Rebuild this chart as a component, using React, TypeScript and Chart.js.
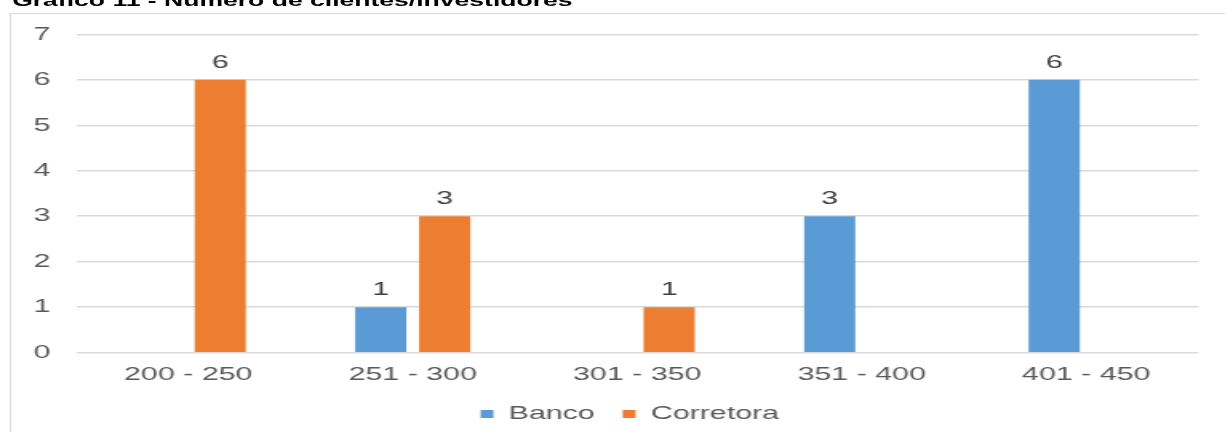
import React, { useEffect, useRef } from 'react';
import { Chart, registerables } from 'chart.js';

Chart.register(...registerables);

// Chart data
const titleText = 'Gráfico 11 - Número de clientes/investidores';
const categories = ['200 - 250', '251 - 300', '301 - 350', '351 - 400', '401 - 450'];
const seriesNames = ['Banco', 'Corretora'];
const bancoValues: (number | null)[] = [null, 1, null, 3, 6];
const corretoraValues: (number | null)[] = [6, 3, 1, null, null];
const seriesColors = ['#5B9BD5', '#ED7D31'];
const yMin = 0;
const yMax = 7;
const yStep = 1;

// The drawing is laid out on a narrower canvas and widened horizontally.
const PAGE_W = 1225;
const PAGE_H = 432;
const INNER_W = 766;
const STRETCH = PAGE_W / INNER_W;

const FONT = "'Liberation Sans', Arial, sans-serif";
const AXIS_COLOR = '#595959';
const LABEL_COLOR = '#404040';
const GRID_COLOR = '#d9d9d9';

// Plot area edges on the narrow canvas
const PLOT_LEFT = 47.5;
const PLOT_RIGHT = 749.4;
// Legend sits slightly left of the plot-area centre
const LEGEND_SHIFT = -4.6;

const valueLabels = {
  id: 'valueLabels',
  afterDatasetsDraw(chart: any) {
    const { ctx } = chart;
    ctx.save();
    ctx.font = `19px ${FONT}`;
    ctx.fillStyle = LABEL_COLOR;
    ctx.textAlign = 'center';
    ctx.textBaseline = 'middle';
    chart.data.datasets.forEach((ds: any, i: number) => {
      const meta = chart.getDatasetMeta(i);
      meta.data.forEach((bar: any, j: number) => {
        const v = ds.data[j];
        if (v === null || v === undefined) return;
        ctx.fillText(String(v), bar.x, bar.y - 17);
      });
    });
    ctx.restore();
  },
};

const legendOffset = {
  id: 'legendOffset',
  afterLayout(chart: any) {
    const lg = chart.legend;
    if (lg) {
      lg.left += LEGEND_SHIFT;
      lg.right += LEGEND_SHIFT;
    }
  },
};

export default function App() {
  const canvasRef = useRef<HTMLCanvasElement | null>(null);

  useEffect(() => {
    if (!canvasRef.current) return;
    const chart = new Chart(canvasRef.current, {
      type: 'bar',
      data: {
        labels: categories,
        datasets: [
          {
            label: seriesNames[0],
            data: bancoValues,
            backgroundColor: seriesColors[0],
            categoryPercentage: 0.57,
            barPercentage: 0.8,
          },
          {
            label: seriesNames[1],
            data: corretoraValues,
            backgroundColor: seriesColors[1],
            categoryPercentage: 0.57,
            barPercentage: 0.8,
          },
        ],
      },
      options: {
        responsive: false,
        animation: false,
        layout: {
          padding: { top: 34.3, right: INNER_W - PLOT_RIGHT, bottom: -1.5, left: 0 },
        },
        plugins: {
          legend: {
            position: 'bottom',
            fullSize: false,
            labels: {
              boxWidth: 8,
              boxHeight: 8,
              padding: 17.5,
              color: AXIS_COLOR,
              font: { family: FONT, size: 19 },
            },
          },
          title: { display: false },
          tooltip: { enabled: false },
        },
        scales: {
          x: {
            grid: { display: false },
            border: { display: false },
            ticks: {
              color: AXIS_COLOR,
              font: { family: FONT, size: 19 },
              padding: 3,
              maxRotation: 0,
            },
            afterFit: (scale: any) => {
              scale.height = 34.3;
            },
          },
          y: {
            min: yMin,
            max: yMax,
            grid: { color: GRID_COLOR, lineWidth: 1.5, drawTicks: false },
            border: { display: false },
            ticks: {
              stepSize: yStep,
              color: AXIS_COLOR,
              font: { family: FONT, size: 19 },
              padding: 16,
            },
            afterFit: (scale: any) => {
              scale.width = PLOT_LEFT;
            },
          },
        },
      },
      plugins: [valueLabels, legendOffset],
    });
    return () => chart.destroy();
  }, []);

  return (
    <div
      style={{
        position: 'absolute',
        left: 0,
        top: 0,
        width: PAGE_W,
        height: PAGE_H,
        overflow: 'hidden',
        background: '#ffffff',
      }}
    >
      <div
        style={{
          position: 'absolute',
          left: 0,
          top: 0,
          width: INNER_W,
          height: PAGE_H,
          transform: `scaleX(${STRETCH})`,
          transformOrigin: '0 0',
        }}
      >
        <div
          style={{
            position: 'absolute',
            left: 6.3,
            top: 12.5,
            width: 2000,
            height: 1000,
            borderLeft: `1.5px solid ${GRID_COLOR}`,
            borderTop: `1.5px solid ${GRID_COLOR}`,
          }}
        />
        <div
          style={{
            position: 'absolute',
            left: 7.6,
            top: -7,
            fontFamily: FONT,
            fontWeight: 'bold',
            fontSize: '16.6px',
            lineHeight: '16.6px',
            whiteSpace: 'nowrap',
            color: '#000000',
          }}
        >
          {titleText}
        </div>
        <canvas
          ref={canvasRef}
          width={INNER_W}
          height={PAGE_H}
          style={{ position: 'absolute', left: 0, top: 0 }}
        />
      </div>
    </div>
  );
}
